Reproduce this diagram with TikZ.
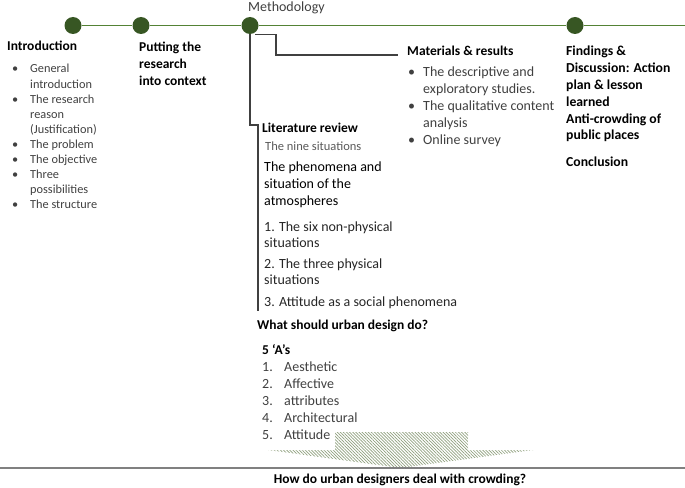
\documentclass[tikz,border=0pt]{standalone}
\usepackage{fontspec}
\setmainfont{Carlito}
\usetikzlibrary{patterns.meta}
\definecolor{tlgreen}{HTML}{548235}
\definecolor{dotgreen}{HTML}{375623}
\definecolor{txtgray}{HTML}{404040}
\definecolor{lightgraytxt}{HTML}{595959}
\definecolor{darktxt}{HTML}{262626}
\definecolor{linegray}{HTML}{404040}
\definecolor{hatchgreen}{HTML}{8FA07E}
\newcommand{\fs}[2]{\fontsize{#1}{#2}\selectfont}
\newcommand{\rowsl}[1]{\begin{tabular}[t]{@{}l@{}}#1\end{tabular}}
\newcommand{\bulletsl}[2]{\begin{tabular}[t]{@{}p{#1}@{}l@{}}#2\end{tabular}}
\begin{document}
\begin{tikzpicture}[x=1pt,y=-1pt,
  txt/.style={inner sep=0pt, anchor=base west, text=txtgray},
  head/.style={inner sep=0pt, anchor=base west, font=\bfseries\fs{13.5}{16.8}, text=black},
  dot/.style={circle, fill=dotgreen, minimum size=17pt, inner sep=0pt},
  tl/.style={draw=tlgreen, line width=1.3pt},
  conn/.style={draw=linegray, line width=1.1pt},
  hatcharrow/.style={pattern={Lines[angle=-45,distance=2.2pt,line width=0.7pt]}, pattern color=hatchgreen}
]
\useasboundingbox (0,0) rectangle (685,487);
% timeline
\node[dot] (c1) at (73,25.5) {};
\node[dot] (c2) at (141,25.5) {};
\node[dot] (c3) at (250,25.5) {};
\node[dot] (c4) at (575,25.5) {};
\coordinate (tlend) at (685,25.5);
\draw[tl] (c1) -- (c2) -- (c3) -- (c4) -- (tlend);
% connectors from methodology
\coordinate (litbar) at (258,311);
\coordinate (matend) at (398,55);
\draw[conn] (c3.south) |- (258,125) -- (litbar);
\draw[conn] ([xshift=5pt]c3.south) -- ++(21,0) |- (matend);
% introduction
\node[head] (intro) at (7,51) {Introduction};
\node[txt, font=\fs{12.3}{15.1}] (introlist) at (12,73) {\bulletsl{18pt}{%
\textbullet & General\\ & introduction\\
\textbullet & The research\\ & reason\\ & (Justification)\\
\textbullet & The problem\\
\textbullet & The objective\\
\textbullet & Three\\ & possibilities\\
\textbullet & The structure}};
% context
\node[head] (ctx) at (139,52) {\rowsl{Putting the\\research\\into context}};
% methodology
\node[txt, font=\fs{14}{17}] (meth) at (248,12) {Methodology};
% materials
\node[head] (mat) at (407,56) {Materials \& results};
\node[txt, font=\fs{14}{17}] (matlist) at (408,77) {\bulletsl{15pt}{%
\textbullet & The descriptive and\\ & exploratory studies.\\
\textbullet & The qualitative content\\ & analysis\\
\textbullet & Online survey}};
% findings
\node[head, font=\bfseries\fs{13.7}{16.8}] (find) at (566,56) {\rowsl{Findings \&\\Discussion: Action\\plan \& lesson\\learned\\Anti-crowding of\\public places}};
\node[head, font=\bfseries\fs{13.7}{16.8}] (concl) at (566,166) {Conclusion};
% literature review
\node[head] (lit) at (262,132) {Literature review};
\node[txt, text=lightgraytxt, font=\fs{12.5}{15}] (nine) at (265,150) {The nine situations};
\node[txt, text=black, font=\fs{14}{17}] (phen) at (264,171) {\rowsl{The phenomena and\\situation of the\\atmospheres}};
\node[txt, text=darktxt, font=\fs{14}{16.5}] (s1) at (264,231) {\rowsl{1. The six non-physical\\situations}};
\node[txt, text=darktxt, font=\fs{14}{16.5}] (s2) at (264,268) {\rowsl{2. The three physical\\situations}};
\node[txt, text=darktxt, font=\fs{14}{16.5}] (s3) at (264,306) {3. Attitude as a social phenomena};
\node[head] (what) at (257,329) {What should urban design do?};
\node[head] (fiveA) at (262,354) {5 ‘A’s};
\node[txt, font=\fs{14}{17}] (alist) at (262,371) {\bulletsl{22pt}{%
1. & Aesthetic\\ 2. & Affective\\ 3. & attributes\\ 4. & Architectural\\ 5. & Attitude}};
% hatched arrow
\fill[hatcharrow] (335,432) -- (468,432) -- (468,450) -- (533,450) -- (400.5,468) -- (268,450) -- (335,450) -- cycle;
% bottom rule and question
\coordinate (bl) at (0,468);
\coordinate (br) at (685,468);
\draw[draw=gray, line width=1.2pt] (bl) -- (br);
\node[head, anchor=base] (q) at (400,483) {How do urban designers deal with crowding?};
\end{tikzpicture}
\end{document}
